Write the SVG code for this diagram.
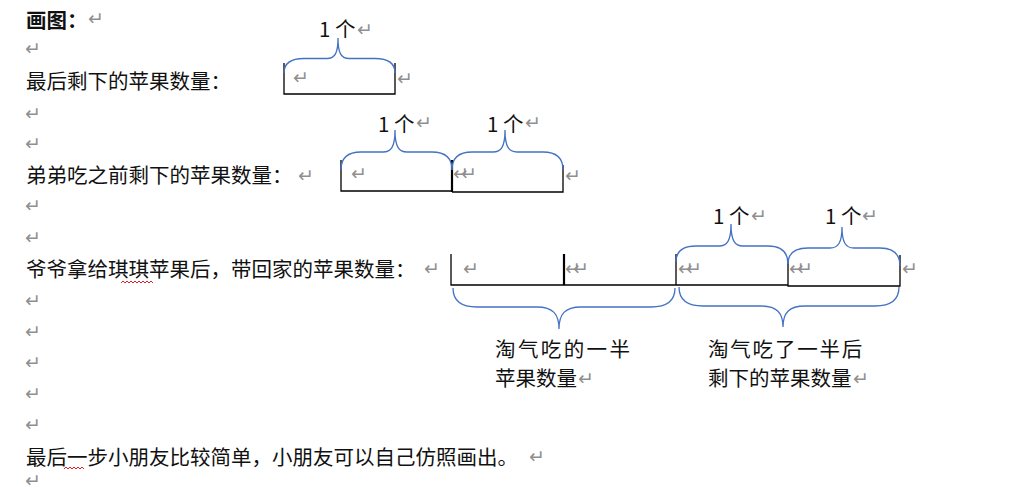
<svg xmlns="http://www.w3.org/2000/svg" width="1016" height="489" viewBox="0 0 1016 489">
<style>
.t{font-family:"Noto Sans CJK SC","Noto Sans",sans-serif;font-size:20.5px;fill:#111}
.b{font-weight:bold}
.pm{font-family:"DejaVu Sans",sans-serif;font-size:19px;fill:#8f8f8f}
.dbl{letter-spacing:-8px}
.box{fill:none;stroke:#000;stroke-width:1.3}
.thick{stroke-width:2.2}
.brace{fill:none;stroke:#4472C4;stroke-width:1.3}
.wavy{fill:none;stroke:#e02020;stroke-width:1}
</style>
<rect width="1016" height="489" fill="#fff"/>

<g id="title">
<text class="t b" x="26" y="28">画图：</text>
<text class="pm" x="88" y="24.5">↵</text>
</g>

<g id="empty-lines">
<text class="pm" x="25" y="54.5">↵</text>
<text class="pm" x="25" y="119.5">↵</text>
<text class="pm" x="25" y="149.5">↵</text>
<text class="pm" x="25" y="211.5">↵</text>
<text class="pm" x="25" y="243.5">↵</text>
<text class="pm" x="25" y="306.5">↵</text>
<text class="pm" x="25" y="337.5">↵</text>
<text class="pm" x="25" y="368.5">↵</text>
<text class="pm" x="25" y="399.5">↵</text>
<text class="pm" x="25" y="430.5">↵</text>
<text class="pm" x="25" y="487" font-size="16">↵</text>
</g>

<g id="row1">
<text class="t" x="26" y="88.5">最后剩下的苹果数量：</text>
<path class="box" d="M284,63 V94 H395 V63"/>
<text class="pm" x="293" y="83.5">↵</text>
<text class="pm" x="397" y="84.5">↵</text>
<text class="t" x="319" y="37">1 个</text>
<text class="pm" x="357" y="35.5">↵</text>
</g>

<g id="row2">
<text class="t" x="26" y="182.5">弟弟吃之前剩下的苹果数量：</text>
<text class="pm" x="298" y="181.5">↵</text>
<path class="box" d="M341,160 V191 H452"/>
<path class="box thick" d="M452,160 V192"/>
<path class="box" d="M452,192 H563 V165"/>
<text class="pm" x="351" y="179.5">↵</text>
<text class="pm dbl" x="453" y="179.5">↵↵</text>
<text class="pm" x="565" y="181.5">↵</text>
<text class="t" x="378" y="132">1 个</text>
<text class="pm" x="416" y="128.5">↵</text>
<text class="t" x="487" y="132">1 个</text>
<text class="pm" x="525" y="128.5">↵</text>
</g>

<g id="row3">
<text class="t" x="26" y="276.5">爷爷拿给琪琪苹果后，带回家的苹果数量：</text>
<path class="wavy" d="M121,283 l2,-2 l2,2 l2,-2 l2,2 l2,-2 l2,2 l2,-2 l2,2 l2,-2 l2,2 l2,-2 l2,2 l2,-2 l2,2 l2,-2 l2,2"/>
<text class="pm" x="424" y="274.5">↵</text>
<path class="box" d="M451,254 V285 H788"/>
<path class="box thick" d="M564,254 V285"/>
<path class="box" d="M676,254 V285"/>
<path class="box" d="M788,260 V286 H900 V255"/>
<text class="pm" x="463" y="274.5">↵</text>
<text class="pm dbl" x="565" y="274.5">↵↵</text>
<text class="pm dbl" x="678" y="274.5">↵↵</text>
<text class="pm dbl" x="789" y="274.5">↵↵</text>
<text class="pm" x="902" y="274.5">↵</text>
<text class="t" x="713" y="224">1 个</text>
<text class="pm" x="751" y="221.5">↵</text>
<text class="t" x="825" y="224">1 个</text>
<text class="pm" x="862" y="221.5">↵</text>
</g>

<g id="label-half">
<text class="t" x="495" y="356.5" letter-spacing="2.4">淘气吃的一半</text>
<text class="t" x="495" y="386">苹果数量</text>
<text class="pm" x="578" y="384.5">↵</text>
</g>

<g id="label-rest">
<text class="t" x="708" y="356.5" letter-spacing="1.8">淘气吃了一半后</text>
<text class="t" x="708" y="386">剩下的苹果数量</text>
<text class="pm" x="853" y="384.5">↵</text>
</g>

<g id="footer">
<text class="t" x="26" y="464.5">最后一步小朋友比较简单，小朋友可以自己仿照画出。</text>
<path class="wavy" d="M64,469 l2,-2 l2,2 l2,-2 l2,2 l2,-2 l2,2 l2,-2 l2,2 l2,-2 l2,2"/>
<text class="pm" x="529" y="462.5">↵</text>
</g>

<g id="connectors">
<path class="brace" d="M284,73 C284,63 291,58.5 304,58.5 L327,58.5 C335,58.5 338,53 338,38 C338,53 341,58.5 349,58.5 L375,58.5 C388,58.5 395,63 395,73"/>
<path class="brace" d="M341,170 C341,158 348,152 361,152 L383,152 C391,152 395,147 395,130 C395,147 399,152 407,152 L432,152 C445,152 452,158 452,170"/>
<path class="brace" d="M452,170 C452,158 459,152 472,152 L493,152 C501,152 505,147 505,130 C505,147 509,152 517,152 L543,152 C556,152 563,158 563,170"/>
<path class="brace" d="M676,262 C676,251 683,246 696,246 L719,246 C727,246 731,241 731,224 C731,241 735,246 743,246 L768,246 C781,246 788,251 788,264"/>
<path class="brace" d="M788,264 C788,253 795,248 808,248 L830,248 C838,248 842,243 842,227 C842,243 846,248 854,248 L880,248 C893,248 900,253 900,266"/>
<path class="brace" d="M453,288 C453,301 461,307 477,307 L537,307 C553,307 559,314 559,329 C559,314 565,307 581,307 L651,307 C667,307 675,301 675,288"/>
<path class="brace" d="M679,287 C679,300 687,306 703,306 L761,306 C777,306 783,313 783,327 C783,313 789,306 805,306 L875,306 C891,306 899,300 899,287"/>
</g>
</svg>
